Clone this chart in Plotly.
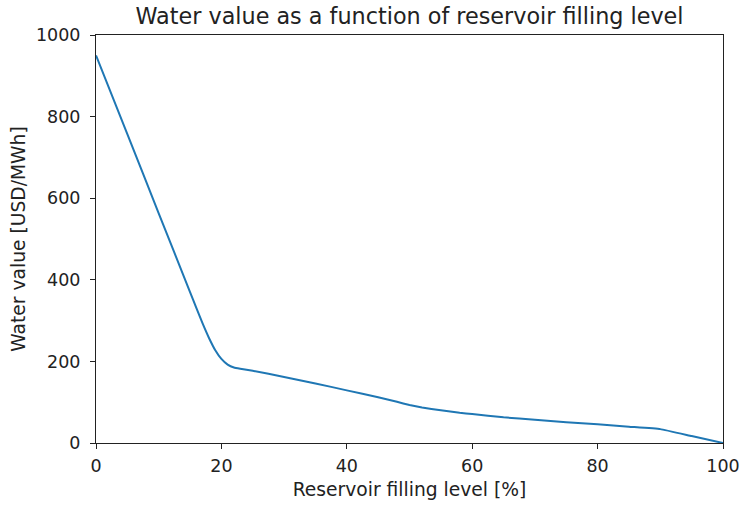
import plotly.graph_objects as go

filling_level = [0, 5, 10, 15, 16, 17, 18, 19, 20, 21, 22, 23, 25, 30, 35, 40, 45, 48, 50, 52, 55, 58, 60, 65, 70, 75, 80, 85, 90, 95, 100]
water_value = [950, 757, 563, 370, 331, 293, 258, 228, 206, 192, 185, 182, 177, 162, 146, 129, 112, 101, 93, 87, 80, 74, 71, 63, 57, 51, 46, 40, 34, 17, 0]

fig = go.Figure()
fig.add_trace(go.Scatter(x=filling_level, y=water_value, mode="lines",
                         line=dict(color="#1f77b4", width=2, shape="spline", smoothing=0.3),
                         showlegend=False))

font = "DejaVu Sans"
axis_common = dict(showline=True, linecolor="#222", linewidth=1, mirror=True,
                   ticks="outside", ticklen=5, tickwidth=1, tickcolor="#222",
                   showgrid=False, zeroline=False, automargin=False,
                   tickfont=dict(family=font, size=17.5, color="#222"))

fig.update_layout(
    width=740, height=508,
    margin=dict(l=96, r=17, t=35, b=65, autoexpand=False),
    paper_bgcolor="white", plot_bgcolor="white",
    title=dict(text="Water value as a function of reservoir filling level",
               x=0.5, xanchor="center", y=1 - 16 / 508, yanchor="middle",
               xref="paper",
               font=dict(family=font, size=22.3, color="#222")),
    xaxis=dict(range=[0, 100], tickvals=[0, 20, 40, 60, 80, 100],
               ticklabelstandoff=2,
               title=dict(text="Reservoir filling level [%]", standoff=7,
                          font=dict(family=font, size=18.7, color="#222")),
               **axis_common),
    yaxis=dict(range=[0, 1000], tickvals=[0, 200, 400, 600, 800, 1000],
               ticklabelstandoff=6,
               title=dict(text="Water value [USD/MWh]", standoff=5,
                          font=dict(family=font, size=18.7, color="#222")),
               **axis_common),
)

fig.write_html("out.html")
